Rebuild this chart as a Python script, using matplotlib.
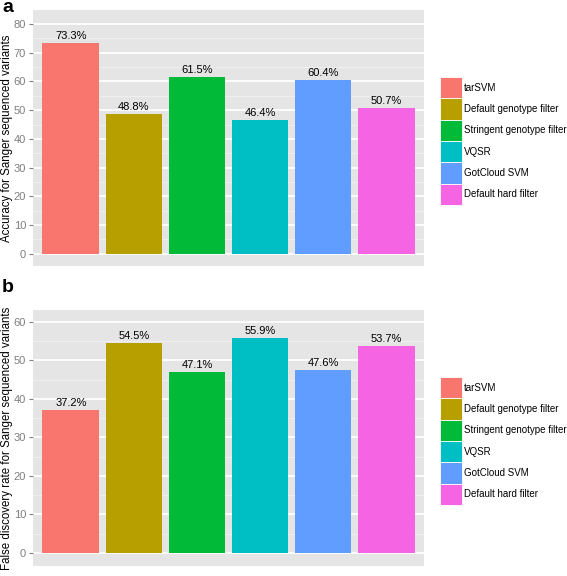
import matplotlib
matplotlib.use("Agg")
import matplotlib.pyplot as plt
from matplotlib.patches import Rectangle
import numpy as np

plt.rcParams['font.family'] = ['Liberation Sans', 'DejaVu Sans']

methods = ["tarSVM", "Default genotype filter", "Stringent genotype filter",
           "VQSR", "GotCloud SVM", "Default hard filter"]
colors = ["#F8766D", "#B79F00", "#00BA38", "#00BFC4", "#619CFF", "#F564E3"]
accuracy = [73.3, 48.8, 61.5, 46.4, 60.4, 50.7]
fdr = [37.2, 54.5, 47.1, 55.9, 47.6, 53.7]

ylabel_a = "Accuracy for Sanger sequenced variants"
ylabel_b = "False discovery rate for Sanger sequenced variants"

W, H = 567, 576
fig = plt.figure(figsize=(W / 100, H / 100), dpi=100)


def fx(px):
    return px / W


def fy(py):
    return 1 - py / H


def panel(top, bottom, vals, ylabel, ylim, yticks, letter, letter_y, legend_top):
    ax = fig.add_axes([fx(33), fy(bottom), fx(424) - fx(33), fy(top) - fy(bottom)])
    ax.set_facecolor("#E5E5E5")
    x = np.arange(1, len(vals) + 1)
    ax.set_xlim(0.4, len(vals) + 0.6)
    ax.set_ylim(*ylim)
    minors = np.arange(5, yticks[-1] + 5, 10)
    for m in minors:
        if m < ylim[1]:
            ax.axhline(m, color="#F2F2F2", lw=0.6, zorder=0)
    for t in yticks:
        ax.axhline(t, color="white", lw=1.3, zorder=0)
    ax.bar(x, vals, width=0.9, color=colors, zorder=2)
    for xi, v in zip(x, vals):
        ax.annotate(f"{v}%", (xi, v), xytext=(0, 1.5), textcoords="offset points",
                    ha="center", va="bottom", fontsize=8, color="black", zorder=3)
    ax.set_yticks(yticks)
    ax.set_yticklabels([str(t) for t in yticks], fontsize=8, color="#7F7F7F")
    ax.tick_params(axis="y", length=3, width=0.8, color="#7F7F7F", pad=2)
    ax.set_xticks([])
    for s in ax.spines.values():
        s.set_visible(False)
    fig.text(fx(7.5), fy((top + bottom) / 2), ylabel, rotation=90, fontsize=8.3,
             ha="center", va="center")
    fig.text(fx(2), fy(letter_y), letter, fontsize=14, fontweight="bold",
             va="center", ha="left")
    # legend
    kh = 21.3
    for i, (m, c) in enumerate(zip(methods, colors)):
        y0 = legend_top + i * kh
        fig.patches.append(Rectangle((fx(440), fy(y0 + kh)), fx(462) - fx(440),
                                     fy(y0) - fy(y0 + kh), transform=fig.transFigure,
                                     facecolor=c, edgecolor="white", lw=0.6))
        fig.text(fx(464), fy(y0 + kh / 2), m, fontsize=7, va="center", ha="left")
    return ax


panel(10, 265.7, accuracy, ylabel_a, (-4.2, 84.9), list(range(0, 81, 10)), "a", 7, 77)
panel(310, 566, fdr, ylabel_b, (-3.4, 63.1), list(range(0, 61, 10)), "b", 288, 377)

fig.savefig("out.png", dpi=100)
